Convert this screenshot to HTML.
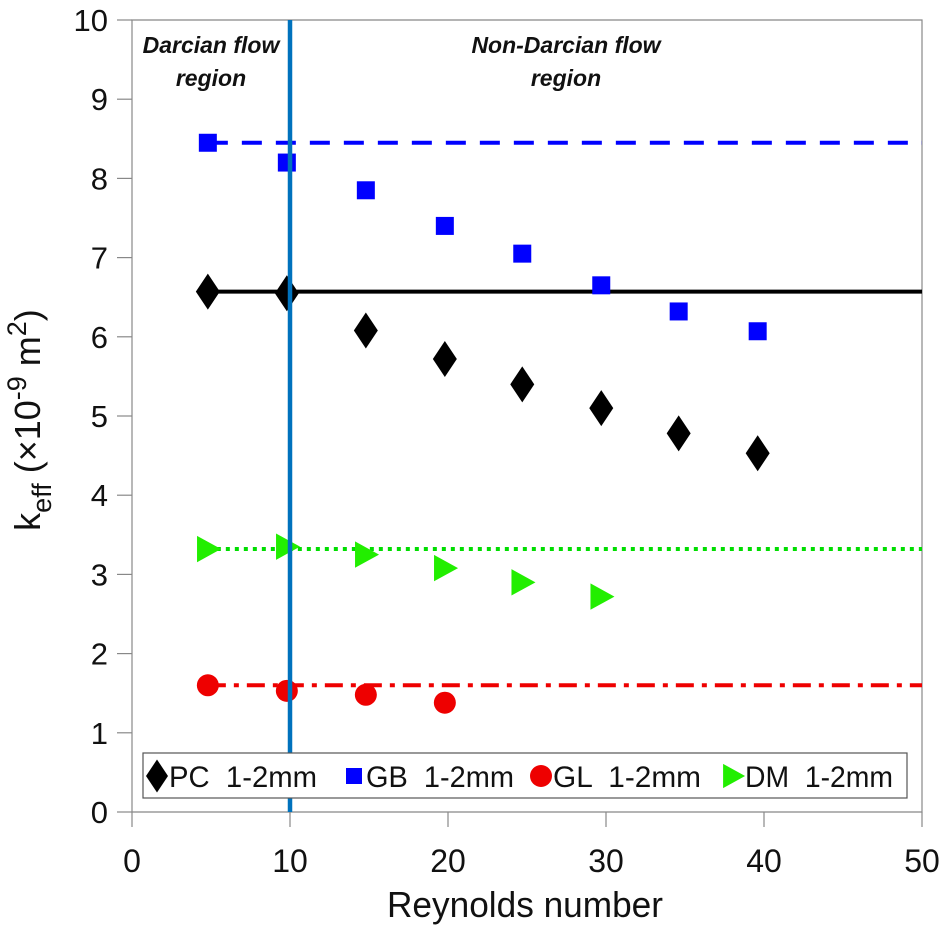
<!DOCTYPE html>
<html><head><meta charset="utf-8"><style>
body{margin:0;background:#fff}
svg{display:block;font-family:"Liberation Sans",Arial,sans-serif}
</style></head><body>
<svg id="chart" width="941" height="925"></svg>
<script>
const xTicks=[0,10,20,30,40,50];
const yTicks=[0,1,2,3,4,5,6,7,8,9,10];
const xPC=[4.8,9.8,14.8,19.8,24.7,29.7,34.6,39.6];
const yPC=[6.57,6.55,6.08,5.72,5.4,5.1,4.78,4.53];
const xGB=[4.8,9.8,14.8,19.8,24.7,29.7,34.6,39.6];
const yGB=[8.45,8.2,7.85,7.4,7.05,6.65,6.32,6.07];
const xGL=[4.8,9.8,14.8,19.8];
const yGL=[1.6,1.53,1.48,1.38];
const xDM=[4.8,9.8,14.8,19.8,24.7,29.7];
const yDM=[3.32,3.35,3.25,3.08,2.9,2.72];
const refPC=6.57, refGB=8.45, refGL=1.6, refDM=3.32;
const boundary=10;

const NS="http://www.w3.org/2000/svg";
const svg=document.getElementById('chart');
const X0=132,X1=922,Y0=812,Y1=20;
const sx=v=>X0+(v-0)/(50-0)*(X1-X0);
const sy=v=>Y0-(v-0)/(10-0)*(Y0-Y1);
function el(t,a,p){const e=document.createElementNS(NS,t);for(const k in a)e.setAttribute(k,a[k]);(p||svg).appendChild(e);return e;}

let fr=el('path',{d:`M${X0},${Y1}H${X1}V${Y0}H${X0}Z`,fill:'none',stroke:'#888','stroke-width':1.2});

xTicks.forEach(t=>{
  let l=el('line',{x1:sx(t),x2:sx(t),y1:Y0,y2:Y0+15,stroke:'#888','stroke-width':1.2});
  
  let tx=el('text',{x:sx(t),y:872,'text-anchor':'middle','font-size':32,fill:'#111'});tx.textContent=t;
  
});
yTicks.forEach(t=>{
  let l=el('line',{x1:X0-15,x2:X0,y1:sy(t),y2:sy(t),stroke:'#888','stroke-width':1.2});
  
  let tx=el('text',{x:X0-24,y:sy(t)+11,'text-anchor':'end','font-size':31,fill:'#111'});tx.textContent=t;
  
});
let xl=el('text',{x:525,y:917,'text-anchor':'middle','font-size':36,fill:'#111',textLength:276,lengthAdjust:'spacingAndGlyphs'});xl.textContent='Reynolds number';

let yl=el('text',{transform:`translate(40,420) rotate(-90)`,'text-anchor':'middle','font-size':36,fill:'#111'});
yl.innerHTML='k<tspan dy="11" font-size="27">eff</tspan><tspan dy="-11"> (×10</tspan><tspan dy="-14" font-size="27">-9</tspan><tspan dy="14"> m</tspan><tspan dy="-14" font-size="27">2</tspan><tspan dy="14">)</tspan>';


function ref(v,col,dash,name){let l=el('line',{x1:sx(xPC[0]),x2:X1,y1:sy(v),y2:sy(v),stroke:col,'stroke-width':4,'stroke-dasharray':dash});
}
ref(refGB,'#0000ff','20 14','gb-reference-line');
ref(refPC,'#000','','pc-reference-line');
ref(refDM,'#00dd00','4 5','dm-reference-line');
ref(refGL,'#e00','18 8 5 8','gl-reference-line');

function mk(type,cx,cy,s,p){
  if(type==='d')return el('path',{d:`M${cx},${cy-s*1.5}L${cx+s},${cy}L${cx},${cy+s*1.5}L${cx-s},${cy}Z`,fill:'#000'},p);
  if(type==='s')return el('rect',{x:cx-s,y:cy-s,width:2*s,height:2*s,fill:'#0000ff'},p);
  if(type==='c')return el('circle',{cx,cy,r:s,fill:'#ee0000'},p);
  return el('path',{d:`M${cx-s*0.9},${cy-s*1.1}L${cx+s*1.1},${cy}L${cx-s*0.9},${cy+s*1.1}Z`,fill:'#22ee00'},p);
}
xPC.forEach((x,i)=>{let m=mk('d',sx(x),sy(yPC[i]),12);});
xGB.forEach((x,i)=>{let m=mk('s',sx(x),sy(yGB[i]),9);});
xGL.forEach((x,i)=>{let m=mk('c',sx(x),sy(yGL[i]),11);});
xDM.forEach((x,i)=>{let m=mk('t',sx(x),sy(yDM[i]),12);});

let vl=el('line',{x1:sx(boundary),x2:sx(boundary),y1:Y1,y2:Y0,stroke:'#0072bd','stroke-width':4.5});


function lab(x,y,t,name){let tx=el('text',{x,y,'text-anchor':'middle','font-size':23,'font-weight':'bold','font-style':'italic',fill:'#111'});tx.textContent=t;
}
lab(211,53,'Darcian flow','darcian-label');lab(211,86,'region','darcian-label-2');
lab(566,53,'Non-Darcian flow','non-darcian-label');lab(566,86,'region','non-darcian-label-2');

const lg=el('g',{});
el('rect',{x:143,y:753,width:764,height:45,fill:'#fff',stroke:'#555','stroke-width':1.2},lg);
const items=[['d','PC  1-2mm',157],['s','GB  1-2mm',354],['c','GL  1-2mm',541],['t','DM  1-2mm',733]];
items.forEach(([t,s,x])=>{
  let e=el('g',{},lg);
  mk(t,x,776,t==='s'?8:11,e);
  let tx=el('text',{x:x+12,y:787,'font-size':30,fill:'#111',textLength:148,lengthAdjust:'spacingAndGlyphs'},e);tx.textContent=s;tx.style.whiteSpace='pre';
});
</script>
</body></html>
